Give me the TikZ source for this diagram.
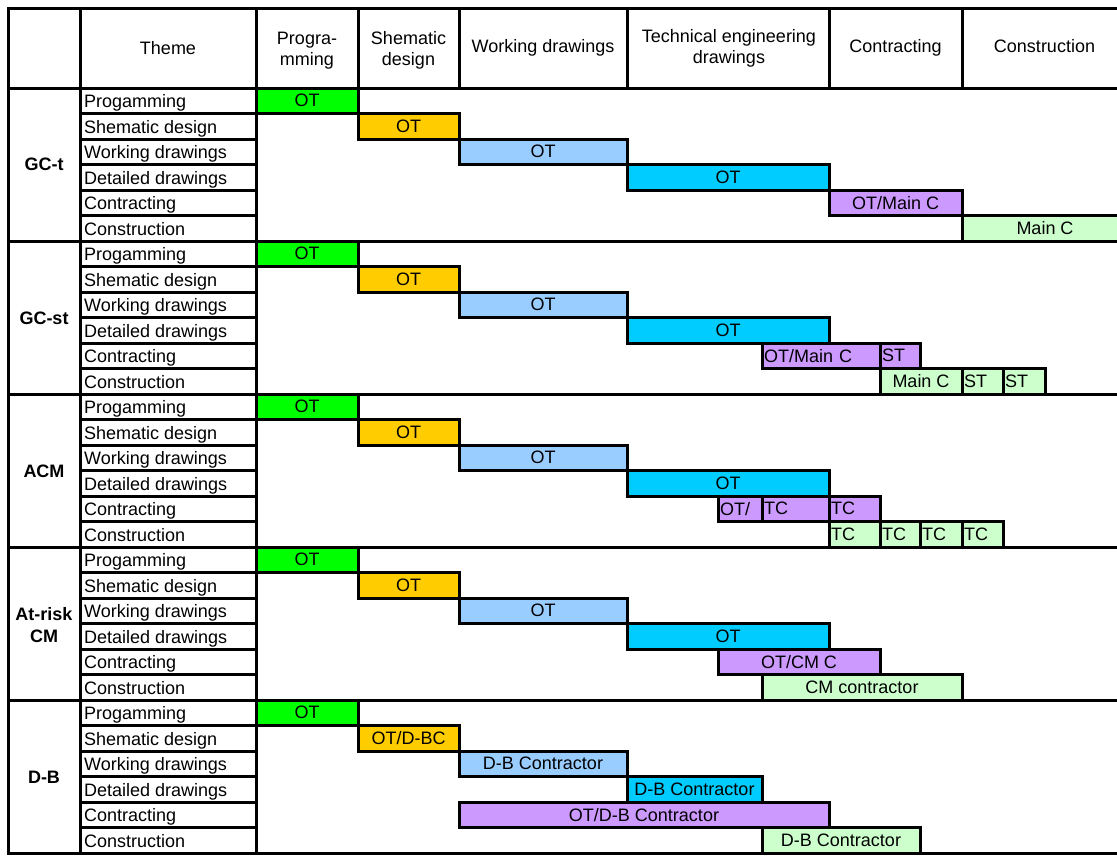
\documentclass[tikz,border=0pt]{standalone}
\usepackage{fontspec}
\setmainfont{Liberation Sans}
\definecolor{cgreen}{HTML}{00FF00}
\definecolor{corange}{HTML}{FFCC00}
\definecolor{clblue}{HTML}{99CCFF}
\definecolor{ccyan}{HTML}{00CCFF}
\definecolor{cpurple}{HTML}{CC99FF}
\definecolor{clgreen}{HTML}{CCFFCC}
% #1 name, #2 x1, #3 x2, #4 row index, #5 colour, #6 text, #7 extra style
\newcommand\gbar[7]{%
  \pgfmathsetmacro\gw{#3-#2}%
  \pgfmathsetmacro\gtw{#3-#2-4}%
  \pgfmathsetmacro\gy{88+25.5*#4}%
  \node[barbox, fill=#5, minimum width=\gw pt, #7] (#1) at (#2,\gy) {#6};}
\begin{document}
\begin{tikzpicture}[x=1pt,y=-1pt,
  gridline/.style={line width=3pt, line cap=rect, black},
  barbox/.style={draw=black, line width=3pt, rectangle, inner sep=2pt, outer sep=0pt,
    minimum height=25.5pt, anchor=north west, font=\fontsize{18}{20}\selectfont},
  ltext/.style={text width=\gtw pt, align=left},
  themetxt/.style={anchor=base west, inner sep=1pt, font=\fontsize{18}{20}\selectfont},
  headtxt/.style={align=center, inner sep=0pt, font=\fontsize{18}{21}\selectfont},
  grouptxt/.style={align=center, inner sep=0pt, font=\fontsize{18}{22.5}\selectfont\bfseries}]
\useasboundingbox (0,0) rectangle (1117,855);
\fill[white] (0,0) rectangle (1117,855);

% ---------- bars ----------
\foreach \g in {0,...,3}{
  \pgfmathtruncatemacro\ra{6*\g}
  \pgfmathtruncatemacro\rb{6*\g+1}
  \pgfmathtruncatemacro\rc{6*\g+2}
  \pgfmathtruncatemacro\rd{6*\g+3}
  \gbar{p\g}{256}{358}{\ra}{cgreen}{OT}{}
  \gbar{s\g}{358}{459}{\rb}{corange}{OT}{}
  \gbar{w\g}{459}{627}{\rc}{clblue}{OT}{}
  \gbar{d\g}{627}{829}{\rd}{ccyan}{OT}{}
}
% GC-t
\gbar{c0}{829}{962}{4}{cpurple}{OT/Main C}{}
\gbar{k0}{962}{1128}{5}{clgreen}{Main C}{}
% GC-st
\gbar{c1a}{762}{880}{10}{cpurple}{OT/Main C}{ltext}
\gbar{c1b}{880}{920}{10}{cpurple}{ST}{ltext}
\gbar{k1a}{880}{962}{11}{clgreen}{Main C}{}
\gbar{k1b}{962}{1003}{11}{clgreen}{ST}{ltext}
\gbar{k1c}{1003}{1045}{11}{clgreen}{ST}{ltext}
% ACM
\gbar{c2a}{718}{762}{16}{cpurple}{OT/}{ltext}
\gbar{c2b}{762}{829}{16}{cpurple}{TC}{ltext}
\gbar{c2c}{829}{880}{16}{cpurple}{TC}{ltext}
\gbar{k2a}{829}{880}{17}{clgreen}{TC}{ltext}
\gbar{k2b}{880}{920}{17}{clgreen}{TC}{ltext}
\gbar{k2c}{920}{962}{17}{clgreen}{TC}{ltext}
\gbar{k2d}{962}{1003}{17}{clgreen}{TC}{ltext}
% At-risk CM
\gbar{c3}{718}{880}{22}{cpurple}{OT/CM C}{}
\gbar{k3}{762}{962}{23}{clgreen}{CM contractor}{}
% D-B
\gbar{p4}{256}{358}{24}{cgreen}{OT}{}
\gbar{s4}{358}{459}{25}{corange}{OT/D-BC}{}
\gbar{w4}{459}{627}{26}{clblue}{D-B Contractor}{}
\gbar{d4}{627}{762}{27}{ccyan}{D-B Contractor}{}
\gbar{c4}{459}{829}{28}{cpurple}{OT/D-B Contractor}{}
\gbar{k4}{762}{920}{29}{clgreen}{D-B Contractor}{}

% ---------- grid ----------
\draw[gridline] (8,8) -- (1125,8);
\draw[gridline] (8,88) -- (1125,88);
\foreach \x in {8,80,256} \draw[gridline] (\x,8) -- (\x,853);
\foreach \x in {358,459,627,829,962} \draw[gridline] (\x,8) -- (\x,88);
\foreach \i in {1,...,29}{
  \pgfmathsetmacro\yy{88+25.5*\i}
  \draw[gridline] (80,\yy) -- (256,\yy);
}
\foreach \i in {6,12,18,24,30}{
  \pgfmathsetmacro\yy{88+25.5*\i}
  \draw[gridline] (8,\yy) -- (1125,\yy);
}

% ---------- header ----------
\node[headtxt] (hTheme) at (168,48) {Theme};
\node[headtxt] (hProg) at (307,50.5) {Progra-\\mming};
\node[headtxt] (hShem) at (408.5,50.5) {Shematic\\design};
\node[headtxt] (hWork) at (543,48) {Working drawings};
\node[headtxt] (hTech) at (729,48) {Technical engineering\\drawings};
\node[headtxt] (hCont) at (895.5,48) {Contracting};
\node[headtxt] (hCons) at (1044.5,46.5) {Construction};

% ---------- theme column ----------
\foreach \g in {0,...,4}{
  \foreach \t [count=\r from 0] in {Progamming,Shematic design,Working drawings,Detailed drawings,Contracting,Construction}{
    \pgfmathsetmacro\yy{88+25.5*(6*\g+\r)+19.5}
    \node[themetxt] (th\g\r) at (83,\yy) {\t};
  }
}

% ---------- group labels ----------
\node[grouptxt] (gA) at (44,164) {GC-t};
\node[grouptxt] (gB) at (44,318) {GC-st};
\node[grouptxt] (gC) at (44,471) {ACM};
\node[grouptxt] (gD) at (44,625) {At-risk\\CM};
\node[grouptxt] (gE) at (44,777) {D-B};
\end{tikzpicture}
\end{document}
